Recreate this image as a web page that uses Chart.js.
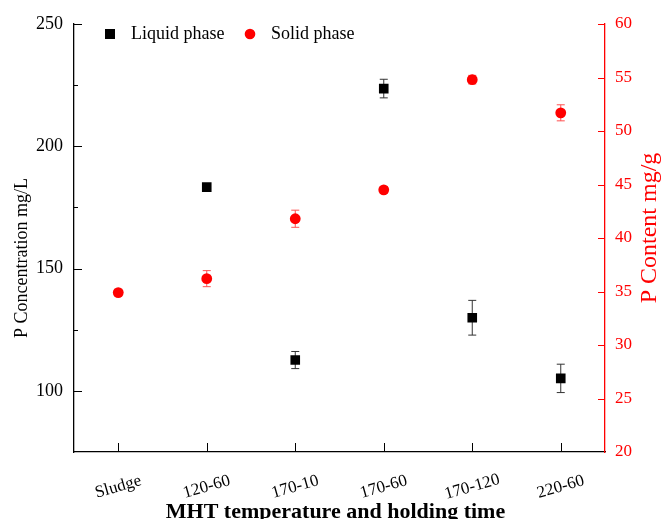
<!DOCTYPE html>
<html>
<head>
<meta charset="utf-8">
<script src="https://cdn.jsdelivr.net/npm/chart.js@4.4.1/dist/chart.umd.min.js"></script>
<style>
    body { margin: 0; background: #fff; }
    .chart-wrap { width: 662px; height: 519px; position: relative; }
</style>
</head>
<body>
<div class="chart-wrap"><canvas id="phosphorus"></canvas></div>
<script>
// Data

const categories = ["Sludge", "120-60", "170-10", "170-60", "170-120", "220-60"];

const liquidValues = [null, 183.3, 112.6, 223.6, 129.9, 105.1],
    liquidErrors = [null, 1.0, 3.5, 3.8, 7.1, 5.8];

const solidValues = [34.9, 36.2, 41.8, 44.5, 54.8, 51.7],
    solidErrors = [0.3, 0.75, 0.8, 0.3, 0.4, 0.75];

const leftTicks = [75, 100, 125, 150, 175, 200, 225, 250],
    leftLabelled = [100, 150, 200, 250],
    rightTicks = [20, 25, 30, 35, 40, 45, 50, 55, 60];

// Styles

const RED = "#ff0000",
    SERIF = "'Liberation Serif', 'Times New Roman', serif";

// Error bars, inward ticks, legend and titles

function errorBar(ctx, x, yTop, yBottom, color) {
    ctx.strokeStyle = color;
    ctx.lineWidth = 1;
    ctx.beginPath();
    ctx.moveTo(x, yTop); ctx.lineTo(x, yBottom);
    ctx.moveTo(x - 4, yTop); ctx.lineTo(x + 4, yTop);
    ctx.moveTo(x - 4, yBottom); ctx.lineTo(x + 4, yBottom);
    ctx.stroke();
}

const errorBarsPlugin = {
    id: "errorBars",
    beforeDatasetsDraw(chart) {
        const ctx = chart.ctx;
        const sets = [
            {meta: chart.getDatasetMeta(0), values: liquidValues, errors: liquidErrors, scale: chart.scales.y, color: "#333"},
            {meta: chart.getDatasetMeta(1), values: solidValues, errors: solidErrors, scale: chart.scales.y1, color: "#ff5050"},
        ];
        ctx.save();
        sets.forEach(set => {
            set.values.forEach((v, i) => {
                if (v === null) return;
                const x = set.meta.data[i].x;
                errorBar(ctx, x, set.scale.getPixelForValue(v + set.errors[i]), set.scale.getPixelForValue(v - set.errors[i]), set.color);
            });
        });
        ctx.restore();
    },
    afterDraw(chart) {
        const ctx = chart.ctx,
            area = chart.chartArea,
            x = chart.scales.x,
            y = chart.scales.y,
            y1 = chart.scales.y1;

        ctx.save();
        ctx.lineWidth = 1;

        // left axis ticks (inward)
        ctx.strokeStyle = "#000";
        ctx.beginPath();
        leftTicks.forEach(v => {
            if (v === 75) return;
            const py = Math.round(y.getPixelForValue(v)) + 0.5,
                len = leftLabelled.includes(v) ? 8 : 4;
            ctx.moveTo(area.left, py); ctx.lineTo(area.left + len, py);
        });
        // bottom axis ticks (inward)
        categories.forEach((c, i) => {
            const px = Math.round(x.getPixelForTick(i)) + 0.5;
            ctx.moveTo(px, area.bottom); ctx.lineTo(px, area.bottom - 9);
        });
        ctx.stroke();

        // right axis ticks (inward)
        ctx.strokeStyle = RED;
        ctx.beginPath();
        rightTicks.forEach(v => {
            if (v === 20) return;
            const py = Math.round(y1.getPixelForValue(v)) + 0.5;
            ctx.moveTo(area.right, py); ctx.lineTo(area.right - 7, py);
        });
        ctx.stroke();

        // x tick labels, slanted and centred on the tick
        ctx.fillStyle = "#000";
        ctx.font = "17px " + SERIF;
        ctx.textAlign = "center";
        ctx.textBaseline = "middle";
        categories.forEach((c, i) => {
            ctx.save();
            ctx.translate(x.getPixelForTick(i), area.bottom + 35);
            ctx.rotate(-16 * Math.PI / 180);
            ctx.fillText(c, 0, 0);
            ctx.restore();
        });

        // axis titles
        ctx.font = "bold 22px " + SERIF;
        ctx.textBaseline = "alphabetic";
        ctx.fillText("MHT temperature and holding time", (area.left + area.right) / 2 - 4, 518);

        ctx.textBaseline = "middle";
        ctx.font = "18px " + SERIF;
        ctx.save();
        ctx.translate(22, 258);
        ctx.rotate(-Math.PI / 2);
        ctx.fillText("P Concentration mg/L", 0, 0);
        ctx.restore();

        ctx.fillStyle = RED;
        ctx.font = "24px " + SERIF;
        ctx.save();
        ctx.translate(650, 228);
        ctx.rotate(-Math.PI / 2);
        ctx.fillText("P Content mg/g", 0, 0);
        ctx.restore();

        // legend
        const ly = area.top + 10;
        ctx.fillStyle = "#000";
        ctx.fillRect(area.left + 31, ly - 5, 10, 10);
        ctx.fillStyle = RED;
        ctx.beginPath();
        ctx.arc(area.left + 176, ly, 5.3, 0, Math.PI * 2);
        ctx.fill();
        ctx.fillStyle = "#000";
        ctx.font = "18px " + SERIF;
        ctx.textAlign = "left";
        ctx.fillText("Liquid phase", area.left + 57, ly);
        ctx.fillText("Solid phase", area.left + 197, ly);

        ctx.restore();
    },
};

// Chart

const ctx = document.getElementById("phosphorus");

let phosphorusChart = new Chart(ctx, {
    type: "line",
    data: {
        labels: categories,
        datasets: [{
            label: "Liquid phase",
            data: liquidValues,
            yAxisID: "y",
            showLine: false,
            pointStyle: "rect",
            pointRadius: 6.8,
            pointBorderWidth: 0,
            backgroundColor: "#000",
            borderColor: "#000",
        },
        {
            label: "Solid phase",
            data: solidValues,
            yAxisID: "y1",
            showLine: false,
            pointStyle: "circle",
            pointRadius: 5.4,
            pointBorderWidth: 0,
            backgroundColor: RED,
            borderColor: RED,
        }],
    },
    options: {
        responsive: true,
        maintainAspectRatio: false,
        devicePixelRatio: 1,
        animation: false,
        layout: {
            padding: {top: 24, left: 0, right: 0, bottom: 0},
        },
        plugins: {
            legend: {display: false},
            tooltip: {enabled: false},
        },
        scales: {
            x: {
                type: "category",
                offset: true,
                grid: {display: false},
                border: {color: "#000", width: 1.3},
                ticks: {display: false},
                afterFit: s => { s.height = 67; },
            },
            y: {
                position: "left",
                min: 75,
                max: 250,
                afterBuildTicks: s => { s.ticks = leftTicks.map(v => ({value: v})); },
                grid: {display: false},
                border: {color: "#000", width: 1.3},
                ticks: {
                    color: "#000",
                    padding: 3,
                    font: {family: SERIF, size: 18},
                    callback: v => leftLabelled.includes(v) ? v : "",
                },
                afterFit: s => { s.width = 74; },
            },
            y1: {
                position: "right",
                min: 20,
                max: 60,
                afterBuildTicks: s => { s.ticks = rightTicks.map(v => ({value: v})); },
                grid: {display: false},
                border: {color: RED, width: 1.3},
                ticks: {
                    color: RED,
                    padding: 2,
                    font: {family: SERIF, size: 17},
                },
                afterFit: s => { s.width = 57; },
            },
        },
    },
    plugins: [errorBarsPlugin],
});
</script>
</body>
</html>
